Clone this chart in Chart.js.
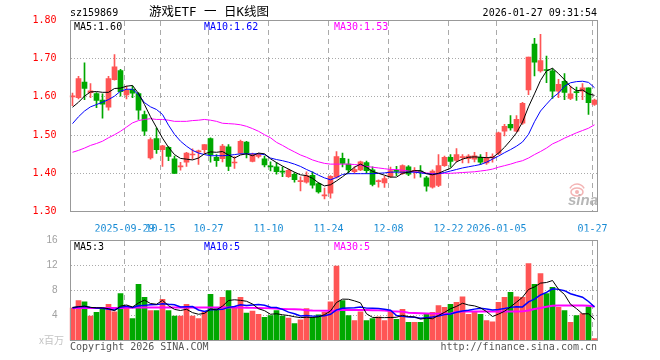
<!DOCTYPE html>
<html>
<head>
<meta charset="utf-8">
<script src="https://cdn.jsdelivr.net/npm/chart.js@4.4.1/dist/chart.umd.min.js"></script>
<style>
  html, body { margin: 0; padding: 0; background: #fff; }
  #wrap { position: relative; width: 660px; height: 360px; }
  #wrap canvas { position: absolute; left: 0; top: 0; }
</style>
</head>
<body>
<div id="wrap">
  <canvas id="kline" width="660" height="360"></canvas>
  <canvas id="vol" width="660" height="360"></canvas>
</div>
<script>
const dates = [
  '2025-09-16','2025-09-17','2025-09-18','2025-09-19','2025-09-22','2025-09-23','2025-09-24','2025-09-25','2025-09-26','2025-09-29',
  '2025-09-30','2025-10-09','2025-10-10','2025-10-13','2025-10-14','2025-10-15','2025-10-16','2025-10-17','2025-10-20','2025-10-21',
  '2025-10-22','2025-10-23','2025-10-24','2025-10-27','2025-10-28','2025-10-29','2025-10-30','2025-10-31','2025-11-03','2025-11-04',
  '2025-11-05','2025-11-06','2025-11-07','2025-11-10','2025-11-11','2025-11-12','2025-11-13','2025-11-14','2025-11-17','2025-11-18',
  '2025-11-19','2025-11-20','2025-11-21','2025-11-24','2025-11-25','2025-11-26','2025-11-27','2025-11-28','2025-12-01','2025-12-02',
  '2025-12-03','2025-12-04','2025-12-05','2025-12-08','2025-12-09','2025-12-10','2025-12-11','2025-12-12','2025-12-15','2025-12-16',
  '2025-12-17','2025-12-18','2025-12-19','2025-12-22','2025-12-23','2025-12-24','2025-12-25','2025-12-26','2025-12-29','2025-12-30',
  '2025-12-31','2026-01-05','2026-01-06','2026-01-07','2026-01-08','2026-01-09','2026-01-12','2026-01-13','2026-01-14','2026-01-15',
  '2026-01-16','2026-01-19','2026-01-20','2026-01-21','2026-01-22','2026-01-23','2026-01-26','2026-01-27'
];
const opens = [
  1.600,1.598,1.639,1.611,1.609,1.592,1.573,1.645,1.669,1.605,
  1.620,1.609,1.554,1.440,1.491,1.462,1.468,1.438,1.417,1.429,
  1.448,1.456,1.462,1.491,1.442,1.438,1.469,1.427,1.453,1.482,
  1.431,1.444,1.438,1.418,1.417,1.404,1.391,1.397,1.378,1.377,
  1.395,1.373,1.341,1.348,1.390,1.439,1.424,1.404,1.409,1.428,
  1.409,1.378,1.375,1.392,1.407,1.400,1.417,1.405,1.405,1.388,
  1.364,1.368,1.420,1.442,1.434,1.441,1.438,1.437,1.442,1.427,
  1.441,1.452,1.510,1.528,1.510,1.531,1.618,1.738,1.668,1.670,
  1.668,1.615,1.641,1.596,1.612,1.615,1.624,1.580
];
const highs = [
  1.610,1.654,1.689,1.635,1.611,1.608,1.654,1.711,1.672,1.628,
  1.628,1.611,1.563,1.493,1.519,1.473,1.470,1.445,1.429,1.455,
  1.464,1.461,1.475,1.493,1.449,1.476,1.475,1.444,1.487,1.484,
  1.453,1.452,1.445,1.430,1.428,1.417,1.411,1.402,1.391,1.404,
  1.404,1.376,1.361,1.394,1.457,1.453,1.437,1.417,1.432,1.432,
  1.417,1.383,1.392,1.416,1.418,1.422,1.420,1.415,1.420,1.392,
  1.409,1.449,1.445,1.449,1.465,1.449,1.449,1.455,1.449,1.455,
  1.451,1.508,1.528,1.551,1.551,1.586,1.704,1.753,1.764,1.707,
  1.674,1.646,1.661,1.628,1.626,1.635,1.624,1.594
];
const lows = [
  1.577,1.595,1.593,1.598,1.572,1.544,1.565,1.644,1.602,1.595,
  1.598,1.541,1.499,1.437,1.452,1.418,1.433,1.400,1.408,1.418,
  1.437,1.423,1.452,1.429,1.418,1.430,1.407,1.413,1.451,1.440,
  1.430,1.440,1.417,1.406,1.398,1.391,1.389,1.377,1.354,1.374,
  1.361,1.348,1.333,1.335,1.387,1.417,1.400,1.400,1.407,1.400,
  1.367,1.364,1.363,1.389,1.394,1.397,1.394,1.387,1.390,1.353,
  1.361,1.365,1.418,1.416,1.430,1.427,1.427,1.430,1.423,1.423,
  1.429,1.449,1.498,1.513,1.508,1.528,1.606,1.655,1.665,1.637,
  1.596,1.598,1.593,1.593,1.591,1.593,1.554,1.578
];
const closes = [
  1.601,1.648,1.622,1.616,1.591,1.581,1.648,1.679,1.614,1.617,
  1.610,1.565,1.510,1.488,1.462,1.472,1.444,1.400,1.419,1.453,
  1.450,1.458,1.475,1.449,1.433,1.471,1.418,1.428,1.484,1.453,
  1.449,1.449,1.422,1.417,1.404,1.403,1.408,1.383,1.380,1.394,
  1.369,1.351,1.343,1.392,1.444,1.426,1.409,1.410,1.430,1.407,
  1.371,1.380,1.386,1.407,1.405,1.420,1.398,1.407,1.403,1.366,
  1.406,1.420,1.442,1.431,1.449,1.443,1.445,1.446,1.429,1.440,
  1.443,1.506,1.523,1.519,1.541,1.583,1.704,1.691,1.695,1.669,
  1.615,1.633,1.612,1.608,1.611,1.624,1.585,1.592
];
const ma5 = [
  1.573,1.586,1.602,1.613,1.614,1.612,1.612,1.622,1.623,1.628,
  1.630,1.609,1.580,1.548,1.520,1.492,1.468,1.449,1.439,1.437,
  1.435,1.440,1.451,1.456,1.455,1.457,1.448,1.440,1.448,1.451,
  1.446,1.453,1.451,1.438,1.428,1.419,1.411,1.403,1.396,1.394,
  1.387,1.375,1.367,1.370,1.380,1.391,1.403,1.416,1.424,1.416,
  1.405,1.400,1.395,1.390,1.390,1.400,1.403,1.407,1.407,1.399,
  1.396,1.400,1.407,1.413,1.430,1.437,1.442,1.443,1.442,1.441,
  1.441,1.453,1.468,1.486,1.506,1.534,1.574,1.608,1.643,1.668,
  1.675,1.661,1.645,1.627,1.616,1.618,1.608,1.604
];
const ma10 = [
  1.530,1.548,1.563,1.574,1.580,1.586,1.593,1.602,1.615,1.620,
  1.620,1.606,1.585,1.574,1.567,1.554,1.526,1.502,1.484,1.471,
  1.460,1.453,1.449,1.446,1.446,1.446,1.447,1.449,1.451,1.451,
  1.451,1.451,1.449,1.440,1.436,1.433,1.429,1.424,1.418,1.410,
  1.403,1.395,1.388,1.383,1.389,1.397,1.399,1.399,1.399,1.399,
  1.399,1.400,1.401,1.403,1.403,1.403,1.403,1.403,1.401,1.399,
  1.398,1.399,1.402,1.406,1.410,1.414,1.417,1.420,1.423,1.429,
  1.437,1.445,1.454,1.462,1.471,1.482,1.502,1.535,1.563,1.581,
  1.598,1.610,1.628,1.637,1.640,1.641,1.638,1.624
];
const ma30 = [
  1.455,1.460,1.466,1.473,1.478,1.484,1.493,1.501,1.510,1.521,
  1.532,1.538,1.541,1.543,1.541,1.541,1.539,1.536,1.536,1.536,
  1.538,1.539,1.541,1.539,1.536,1.531,1.530,1.529,1.527,1.523,
  1.517,1.510,1.501,1.493,1.481,1.473,1.464,1.456,1.448,1.442,
  1.435,1.430,1.426,1.424,1.424,1.424,1.424,1.423,1.421,1.418,
  1.416,1.414,1.412,1.410,1.410,1.408,1.406,1.404,1.403,1.401,
  1.399,1.399,1.400,1.400,1.401,1.402,1.403,1.404,1.406,1.408,
  1.411,1.416,1.420,1.424,1.429,1.433,1.440,1.449,1.457,1.466,
  1.477,1.484,1.492,1.499,1.506,1.512,1.518,1.527
];
// volume in millions
const volumes = [
  5.2,6.4,6.2,3.9,4.5,5.1,5.8,4.6,7.5,5.4,
  3.5,9.0,6.9,4.8,4.8,6.6,4.8,3.9,3.9,5.8,
  3.9,3.5,4.6,7.4,5.1,6.9,8.0,5.2,6.9,4.4,
  4.7,4.2,3.7,4.0,4.8,3.9,3.6,2.7,3.3,5.1,
  3.7,4.1,4.5,6.2,11.9,6.4,4.0,3.2,4.6,3.2,
  3.5,3.8,3.2,4.7,3.4,5.0,2.9,2.9,2.9,4.2,
  4.5,5.6,5.3,5.8,6.1,7.0,4.2,4.6,4.2,3.2,
  3.0,6.1,6.9,7.7,7.0,6.9,12.3,9.0,10.7,7.5,
  8.5,5.3,4.8,2.9,4.0,4.3,5.4,0.3
];
const volMa5 = [
  5.30,5.40,5.50,5.30,5.24,5.22,5.10,4.78,5.50,5.68,
  5.36,6.00,6.46,5.92,5.80,6.42,5.58,4.98,4.80,5.00,
  4.46,4.20,4.34,5.04,4.90,5.50,6.40,6.52,6.42,6.28,
  5.84,5.08,4.78,4.20,4.28,4.12,4.00,3.80,3.66,3.72,
  3.68,3.78,4.14,4.72,6.08,6.62,6.60,6.34,6.02,4.28,
  3.70,3.66,3.66,3.68,3.72,4.02,3.84,3.78,3.42,3.58,
  3.48,4.02,4.50,5.08,5.46,5.96,5.68,5.54,5.22,4.64,
  3.84,4.22,4.68,5.38,6.14,6.92,8.16,8.58,9.18,9.28,
  9.60,8.20,7.36,5.80,5.10,4.26,4.28,3.38
];
const volMa10 = [
  5.20,5.40,5.45,5.30,5.20,5.15,5.00,4.90,5.30,5.46,
  5.29,5.55,5.62,5.71,5.74,5.89,5.79,5.72,5.36,5.40,
  5.44,4.89,4.66,4.92,4.95,4.98,5.30,5.43,5.73,5.59,
  5.67,5.74,5.65,5.31,5.28,4.98,4.54,4.29,3.93,4.00,
  3.90,3.89,3.97,4.19,4.90,5.15,5.19,5.24,5.37,5.18,
  5.16,5.13,5.00,4.85,4.00,3.86,3.75,3.72,3.55,3.65,
  3.75,3.93,4.14,4.25,4.52,4.72,4.85,5.02,5.15,5.05,
  4.90,4.95,5.11,5.30,5.39,5.38,6.19,6.63,7.28,7.71,
  8.26,8.18,7.97,7.49,7.19,6.93,6.24,5.37
];
const volMa30 = [
  5.20,5.20,5.20,5.20,5.20,5.20,5.20,5.20,5.20,5.25,
  5.25,5.30,5.30,5.30,5.30,5.30,5.30,5.30,5.30,5.30,
  5.30,5.30,5.30,5.30,5.30,5.30,5.30,5.28,5.26,5.24,
  5.22,5.20,5.18,5.15,5.10,5.05,5.02,5.00,4.95,4.85,
  4.80,4.78,4.78,4.78,4.80,4.90,4.90,4.90,4.88,4.88,
  4.85,4.82,4.80,4.70,4.65,4.62,4.45,4.40,4.35,4.32,
  4.30,4.27,4.27,4.27,4.60,4.62,4.64,4.64,4.64,4.64,
  4.64,4.64,4.64,4.64,4.64,4.66,4.80,5.05,5.20,5.40,
  5.55,5.60,5.60,5.60,5.60,5.60,5.55,5.45
];

const tickDates = ['2025-09-29','2025-10-15','2025-10-27','2025-11-10','2025-11-24','2025-12-08','2025-12-22','2026-01-05','2026-01-27'];
const tickTexts = ['2025-09-29','10-15','10-27','11-10','11-24','12-08','12-22','2026-01-05','01-27'];
const priceTicks = [1.30, 1.40, 1.50, 1.60, 1.70, 1.80];
const volTicks = [0, 4, 8, 12, 16];

const MONO = "'DejaVu Sans Mono', 'Liberation Mono', monospace";
const UP = '#ff5555', DOWN = '#00a800';
const GRID = '#aaaaaa', FRAME = '#999';

const dirColors = opens.map((o, i) => closes[i] >= o ? UP : DOWN);
const tickIdx = tickDates.map(d => dates.indexOf(d));
const last = arr => arr[arr.length - 1];

function lineSet(data, color, width) {
  return { type: 'line', data, borderColor: color, borderWidth: width || 1, pointRadius: 0, tension: 0, order: 0 };
}

// dashed verticals at the dated ticks, dotted horizontals at inner y ticks
function drawGrid(chart) {
  const ctx = chart.ctx, a = chart.chartArea;
  const xs = chart.scales.x, ys = chart.scales.y;
  const step = xs.getPixelForValue(1) - xs.getPixelForValue(0);
  const top = Math.floor(a.top) + 1, bottom = Math.floor(a.bottom);
  const left = Math.floor(a.left) + 2, right = Math.floor(a.right);
  ctx.save();
  ctx.fillStyle = GRID;
  for (const i of tickIdx) {
    const px = Math.floor(xs.getPixelForValue(i) - step / 3);
    for (let yy = top; yy < bottom; yy += 9) {
      ctx.fillRect(px, yy, 1, Math.min(5, bottom - yy));
    }
  }
  for (const v of ys.ticks.map(t => t.value)) {
    if (v <= ys.min || v >= ys.max) continue;
    const py = Math.floor(ys.getPixelForValue(v));
    for (let xx = left; xx < right; xx += 3) ctx.fillRect(xx, py, 1, 1);
  }
  ctx.restore();
}

function drawFrame(chart) {
  const ctx = chart.ctx, a = chart.chartArea;
  const l = Math.floor(a.left) + 1, r = Math.floor(a.right);
  const t = Math.floor(a.top), b = Math.floor(a.bottom);
  ctx.save();
  ctx.fillStyle = FRAME;
  ctx.fillRect(l, t, r - l + 1, 1);
  ctx.fillRect(l, b, r - l + 1, 1);
  ctx.fillRect(l, t, 1, b - t + 1);
  ctx.fillRect(r, t, 1, b - t + 1);
  ctx.restore();
}

function drawTexts(ctx, items) {
  ctx.save();
  ctx.textBaseline = 'middle';
  items.forEach(it => {
    ctx.font = it.font || ('10px ' + MONO);
    ctx.fillStyle = it.color || '#000';
    ctx.textAlign = it.align || 'left';
    ctx.fillText(it.text, it.x, it.y);
  });
  ctx.restore();
}

function drawWatermark(ctx) {
  ctx.save();
  ctx.strokeStyle = 'rgba(240,160,160,0.8)';
  ctx.fillStyle = 'rgba(240,160,160,0.8)';
  ctx.lineWidth = 1.5;
  ctx.beginPath();
  ctx.ellipse(577, 192, 6, 4, 0, 0, Math.PI * 2);
  ctx.stroke();
  ctx.beginPath();
  ctx.arc(577, 192, 2, 0, Math.PI * 2);
  ctx.fill();
  ctx.beginPath();
  ctx.arc(577, 192, 8, Math.PI * 1.15, Math.PI * 1.85);
  ctx.stroke();
  ctx.font = "italic bold 15px 'Liberation Sans', Arial, sans-serif";
  ctx.fillStyle = 'rgba(170,170,170,0.85)';
  ctx.textAlign = 'right';
  ctx.textBaseline = 'alphabetic';
  ctx.fillText('sina', 598, 205);
  ctx.restore();
}

const klinePlugin = {
  id: 'klineDeco',
  beforeDatasetsDraw(chart) {
    drawGrid(chart);
    drawWatermark(chart.ctx);
  },
  afterDraw(chart) {
    drawFrame(chart);
    drawTexts(chart.ctx, [
      { text: 'sz159869', x: 70, y: 13 },
      { text: '游戏ETF 一 日K线图', x: 209, y: 13, align: 'center', font: "12.5px " + MONO + ", 'Noto Sans CJK SC'" },
      { text: '2026-01-27 09:31:54', x: 597, y: 13, align: 'right' },
      { text: 'MA5:' + last(ma5).toFixed(2), x: 74, y: 27 },
      { text: 'MA10:' + last(ma10).toFixed(2), x: 204, y: 27, color: '#0000ff' },
      { text: 'MA30:' + last(ma30).toFixed(2), x: 334, y: 27, color: '#ff00ff' }
    ]);
  }
};

const volPlugin = {
  id: 'volDeco',
  beforeDatasetsDraw(chart) {
    drawGrid(chart);
  },
  afterDraw(chart) {
    drawFrame(chart);
    drawTexts(chart.ctx, [
      { text: 'MA5:' + last(volMa5).toFixed(0), x: 74, y: 247 },
      { text: 'MA10:' + last(volMa10).toFixed(0), x: 204, y: 247, color: '#0000ff' },
      { text: 'MA30:' + last(volMa30).toFixed(0), x: 334, y: 247, color: '#ff00ff' },
      { text: 'x百万', x: 64, y: 340, align: 'right', color: '#c4c4c4', font: "10px 'Noto Sans CJK SC', sans-serif" },
      { text: 'Copyright 2026 SINA.COM', x: 70, y: 347, color: '#555' },
      { text: 'http://finance.sina.com.cn', x: 597, y: 347, align: 'right', color: '#555' }
    ]);
  }
};

const common = {
  responsive: false,
  animation: false,
  devicePixelRatio: 1,
  events: [],
  plugins: { legend: { display: false }, tooltip: { enabled: false } }
};

new Chart(document.getElementById('kline'), {
  type: 'bar',
  data: {
    labels: dates,
    datasets: [
      lineSet(ma5, '#000000'),
      lineSet(ma10, '#0000ff'),
      lineSet(ma30, '#ff00ff'),
      { // candle bodies
        data: closes.map((c, i) => [opens[i], c]),
        backgroundColor: dirColors, barThickness: 5, minBarLength: 1,
        grouped: false, borderWidth: 0, order: 1
      },
      { // wicks
        data: lows.map((l, i) => [l, highs[i]]),
        backgroundColor: dirColors, barThickness: 1,
        grouped: false, borderWidth: 0, order: 2
      }
    ]
  },
  options: {
    ...common,
    layout: { padding: { top: 20.5, right: 62.5, bottom: 128.5, left: 0 } },
    scales: {
      x: {
        afterFit: s => { s.height = 20; },
        grid: { display: false },
        border: { display: false },
        ticks: {
          autoSkip: false, maxRotation: 0, padding: 4, labelOffset: -2,
          color: '#168ad4', font: { family: MONO, size: 10 },
          callback: (v, i) => { const k = tickIdx.indexOf(i); return k >= 0 ? tickTexts[k] : ''; }
        }
      },
      y: {
        min: 1.3, max: 1.8,
        afterFit: s => { s.width = 69.5; },
        afterBuildTicks: s => { s.ticks = priceTicks.map(v => ({ value: v })); },
        grid: { display: false },
        border: { display: false },
        ticks: { color: '#ff0000', padding: 5, font: { family: MONO, size: 10 }, callback: v => v.toFixed(2) }
      }
    }
  },
  plugins: [klinePlugin]
});

new Chart(document.getElementById('vol'), {
  type: 'bar',
  data: {
    labels: dates,
    datasets: [
      lineSet(volMa5, '#000000'),
      lineSet(volMa10, '#0000ff', 1.5),
      lineSet(volMa30, '#ff00ff', 2),
      {
        data: volumes, backgroundColor: dirColors, barThickness: 5,
        grouped: false, borderWidth: 0, order: 1
      }
    ]
  },
  options: {
    ...common,
    layout: { padding: { top: 240.5, right: 62.5, bottom: 19.5, left: 0 } },
    scales: {
      x: {
        afterFit: s => { s.height = 0; },
        grid: { display: false },
        border: { display: false },
        ticks: { display: false }
      },
      y: {
        min: 0, max: 16,
        afterFit: s => { s.width = 69.5; },
        afterBuildTicks: s => { s.ticks = volTicks.map(v => ({ value: v })); },
        grid: { display: false },
        border: { display: false },
        ticks: {
          color: '#a0a0a0', padding: 4,
          font: { family: "'Liberation Sans', Arial, sans-serif", size: 10 },
          callback: v => v === 0 ? '' : String(v)
        }
      }
    }
  },
  plugins: [volPlugin]
});
</script>
</body>
</html>
